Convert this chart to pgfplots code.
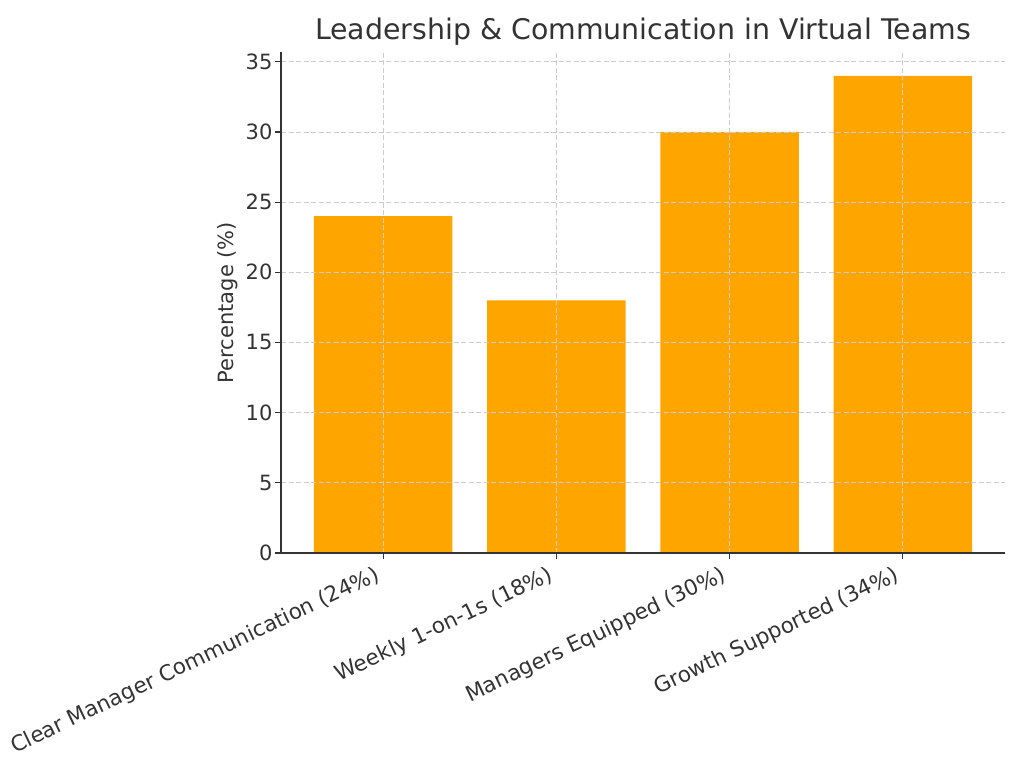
\documentclass[border=0pt]{standalone}
\usepackage{pgfplots}
\pgfplotsset{compat=1.18}
\usepackage{fontspec}
\setmainfont{DejaVu Sans}

\definecolor{barorange}{HTML}{FFA500}
\definecolor{textgray}{HTML}{333333}
\definecolor{gridgray}{HTML}{CCCCCC}
\definecolor{spine}{HTML}{333333}

\begin{document}
\begin{tikzpicture}[x=1pt,y=1pt]
% page frame
\path (0,0) rectangle (1024,768);
\begin{axis}[
  at={(281pt,215pt)}, anchor=south west,
  scale only axis,
  width=724pt, height=501pt,
  ybar, bar width=0.8,
  xmin=-0.59, xmax=3.59,
  ymin=0, ymax=35.7,
  xtick={0,1,2,3},
  xticklabels={Clear Manager Communication (24\%), Weekly 1-on-1s (18\%), Managers Equipped (30\%), Growth Supported (34\%)},
  ytick={0,5,10,15,20,25,30,35},
  axis x line*=bottom, axis y line*=left,
  axis line style={spine, line width=1.4pt, -},
  tick align=outside,
  major tick length=6pt,
  tick style={spine, line width=1.1pt},
  grid=major,
  major grid style={gridgray, line width=0.9pt, dash pattern=on 5pt off 2.5pt},
  axis on top,
  /pgf/number format/assume math mode=true,
  tick label style={font=\fontsize{21}{25}\selectfont, text=textgray},
  xticklabel style={font=\fontsize{21.5}{25}\selectfont, rotate=25.5, anchor=north east, inner sep=2pt, yshift=1pt, xshift=-9pt},
  yticklabel style={xshift=1pt},
  ylabel={Percentage (\%)},
  ylabel style={font=\fontsize{21}{25}\selectfont, text=textgray,
    at={(axis description cs:-0.055,0.5)}, anchor=south},
  title={Leadership \& Communication in Virtual Teams},
  title style={font=\fontsize{28.4}{32}\selectfont, text=textgray,
    at={(axis description cs:0.5,1)}, anchor=base, yshift=6pt},
]
\addplot[fill=barorange, draw=none] coordinates {(0,24) (1,18) (2,30) (3,34)};
\end{axis}
\end{tikzpicture}
\end{document}
